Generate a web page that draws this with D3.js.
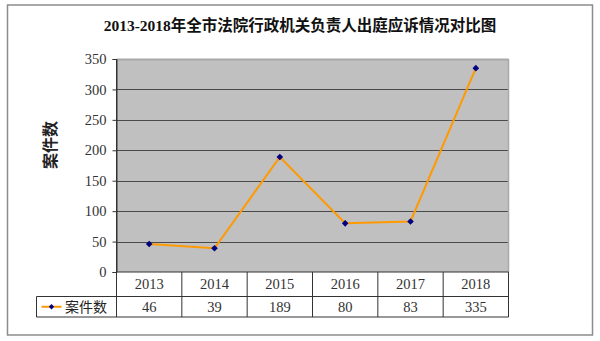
<!DOCTYPE html>
<html><head><meta charset="utf-8">
<script src="https://cdn.jsdelivr.net/npm/d3@7"></script>
<style>body{margin:0;background:#fff}</style>
</head><body>
<svg id="c" width="600" height="341"></svg>
<script>
const title = "2013-2018年全市法院行政机关负责人出庭应诉情况对比图";
const categories = ["2013","2014","2015","2016","2017","2018"];
const values = [46, 39, 189, 80, 83, 335];
const yTicks = [0,50,100,150,200,250,300,350];
const seriesName = "案件数";
const yTitle = "案件数";

const font = "'Liberation Serif','Noto Sans CJK SC',serif";
const svg = d3.select("#c");
const L = 116.5, R = 508.5, T = 59, B = 272;
const x = d3.scaleBand().domain(categories).range([L, R]);
const y = d3.scaleLinear().domain([0, 350]).range([B, T]);

svg.append("rect").attr("x",7.5).attr("y",5).attr("width",585).attr("height",330)
  .attr("fill","#fff").attr("stroke","#8c8c8c").attr("stroke-width",1.5);

svg.append("text").attr("x",300).attr("y",30.5).attr("text-anchor","middle")
  .attr("font-family",font).attr("font-weight","bold").attr("font-size",15.5).attr("fill","#111")
  .text(title);

svg.append("rect").attr("x",L).attr("y",T).attr("width",R-L).attr("height",B-T).attr("fill","#c0c0c0");

const g = svg.append("g");
g.selectAll("line.grid").data(yTicks.filter(d=>d>0)).join("line")
  .attr("x1",L).attr("x2",R).attr("y1",d=>Math.round(y(d))+0.5).attr("y2",d=>Math.round(y(d))+0.5)
  .attr("stroke",d=>d===350?"#a8a8a8":"#4a4a4a").attr("stroke-width",d=>d===350?2:1.2);
svg.append("line").attr("x1",R).attr("x2",R).attr("y1",T).attr("y2",B).attr("stroke","#a8a8a8").attr("stroke-width",1.5);

const yAxis = d3.axisLeft(y).tickValues(yTicks).tickSize(4).tickPadding(6);
const ya = svg.append("g").attr("transform",`translate(${L},0)`).call(yAxis);
ya.select(".domain").attr("stroke","#333");
ya.selectAll(".tick line").attr("stroke","#333");
ya.selectAll("text").attr("font-family",font).attr("font-size",14.5).attr("fill","#333");
ya.selectAll(".tick text").attr("x",-10);

svg.append("text").attr("transform","translate(52,145) rotate(-90)").attr("text-anchor","middle")
  .attr("dominant-baseline","middle").attr("font-family",font).attr("font-weight","bold")
  .attr("font-size",16).attr("fill","#222").text(yTitle);

const r1 = B, r2 = 296.5, r3 = 317, tL = 36.5;
const tbl = svg.append("g").attr("stroke","#333").attr("stroke-width",1);
tbl.append("line").attr("x1",L).attr("x2",R).attr("y1",r1).attr("y2",r1);
tbl.append("line").attr("x1",tL).attr("x2",R).attr("y1",r2).attr("y2",r2);
tbl.append("line").attr("x1",tL).attr("x2",R).attr("y1",r3).attr("y2",r3);
tbl.append("line").attr("x1",tL).attr("x2",tL).attr("y1",r2).attr("y2",r3);
const cols = categories.map(c=>x(c)).concat([R]);
tbl.selectAll("line.v").data(cols).join("line").attr("class","v")
  .attr("x1",d=>d).attr("x2",d=>d).attr("y1",(d,i)=>i===0?T:r1).attr("y2",r3);

svg.selectAll("text.cat").data(categories).join("text").attr("class","cat")
  .attr("x",d=>x(d)+x.bandwidth()/2).attr("y",(r1+r2)/2+5).attr("text-anchor","middle")
  .attr("font-family",font).attr("font-size",14.5).attr("fill","#333").text(d=>d);
svg.selectAll("text.val").data(values).join("text").attr("class","val")
  .attr("x",(d,i)=>x(categories[i])+x.bandwidth()/2).attr("y",(r2+r3)/2+5).attr("text-anchor","middle")
  .attr("font-family",font).attr("font-size",14.5).attr("fill","#333").text(d=>d);

svg.append("line").attr("x1",41.5).attr("x2",61.5).attr("y1",(r2+r3)/2).attr("y2",(r2+r3)/2)
  .attr("stroke","#ff9900").attr("stroke-width",2);
svg.append("path").attr("d",d3.symbol(d3.symbolDiamond2,18)()).attr("transform",`translate(51.5,${(r2+r3)/2})`).attr("fill","#000080");
svg.append("text").attr("x",65).attr("y",(r2+r3)/2+5).attr("font-family","'Noto Sans CJK SC',sans-serif")
  .attr("font-size",14).attr("fill","#222").text(seriesName);

const line = d3.line().x((d,i)=>x(categories[i])+x.bandwidth()/2).y(d=>y(d));
svg.append("path").datum(values).attr("d",line).attr("fill","none").attr("stroke","#ff9900").attr("stroke-width",2);
svg.selectAll("path.m").data(values).join("path").attr("class","m")
  .attr("d",d3.symbol(d3.symbolDiamond2,28)())
  .attr("transform",(d,i)=>`translate(${x(categories[i])+x.bandwidth()/2},${y(d)})`)
  .attr("fill","#000080");
</script>
</body></html>
